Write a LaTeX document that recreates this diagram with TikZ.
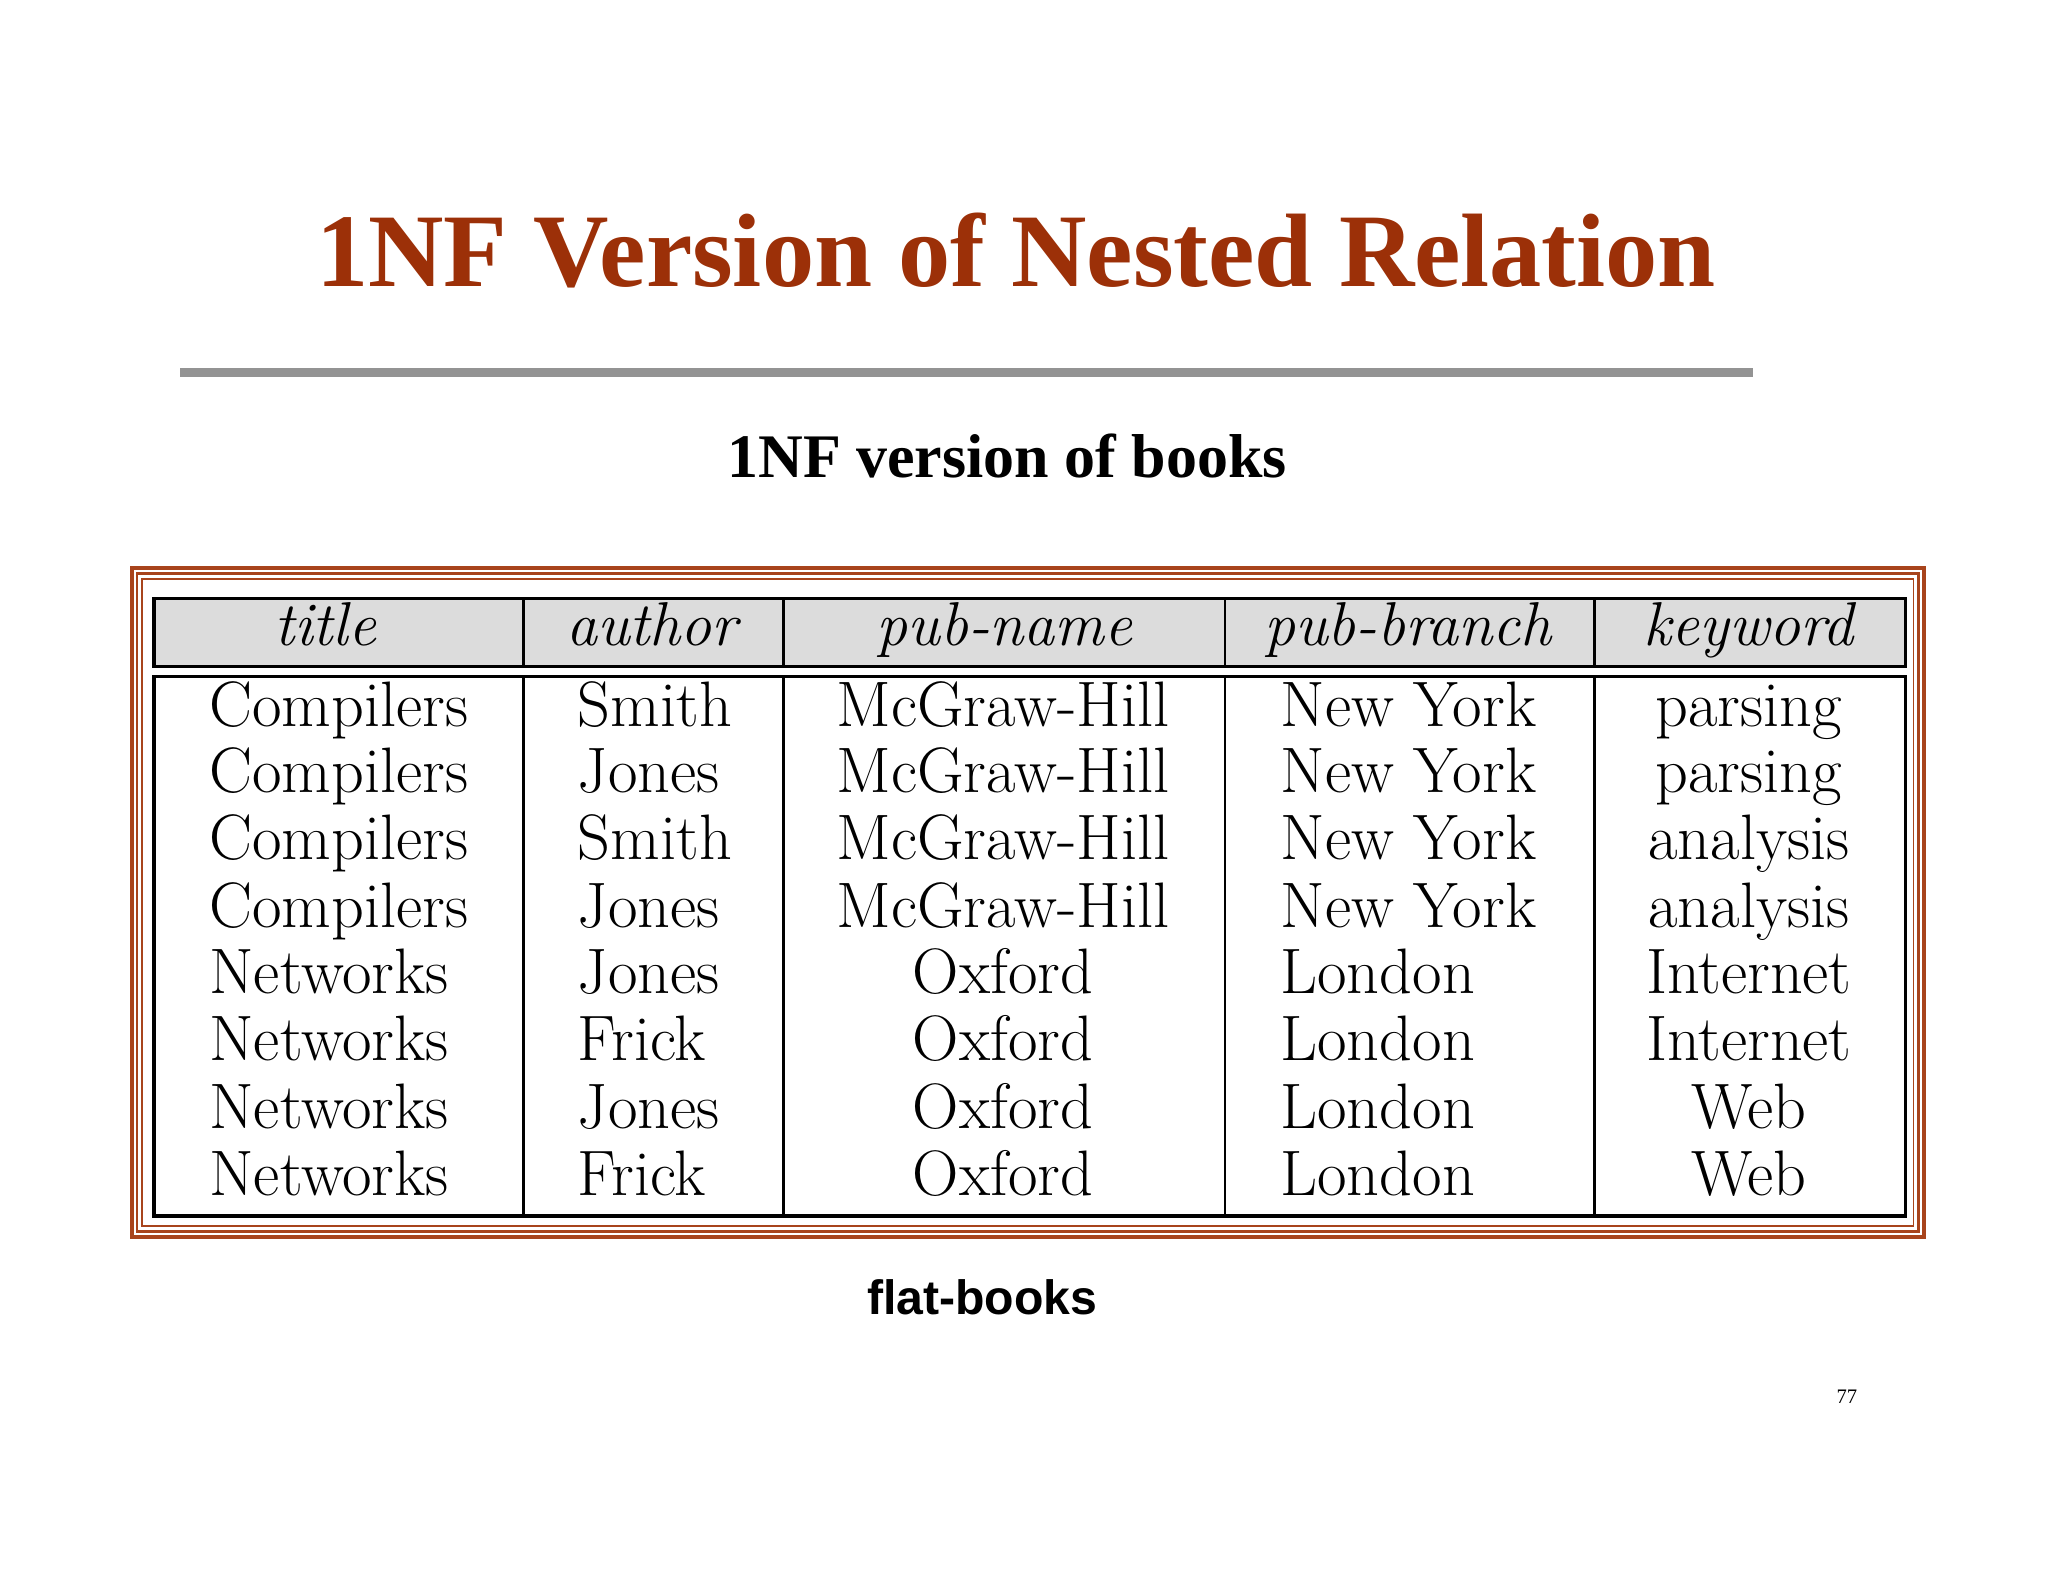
\documentclass[tikz,border=0pt]{standalone}
\usepackage{fontspec}
\setmainfont{Latin Modern Roman}
\newfontfamily\timesf{Liberation Serif}
\newfontfamily\arialf{Liberation Sans}
\definecolor{ttl}{HTML}{9C3008}
\definecolor{frm}{HTML}{A8441C}
\definecolor{hdr}{HTML}{DCDCDC}
\begin{document}
\begin{tikzpicture}[x=0.02cm,y=-0.02cm,
  cell/.style={font=\fontsize{28}{30}\selectfont,inner sep=0pt,anchor=base},
  hcell/.style={font=\fontsize{27}{29}\selectfont\itshape,inner sep=0pt,anchor=base}]
\useasboundingbox (0,0) rectangle (1568,1211);
\node[font=\timesf\bfseries\fontsize{45.5}{50}\selectfont,text=ttl,inner sep=0pt] (title) at (778,192) {1NF Version of Nested Relation};
\draw[line width=0.14cm,color=gray!85] (138,285) -- (1342,285);
\node[font=\timesf\bfseries\fontsize{27}{30}\selectfont,inner sep=0pt] (sub) at (771,349) {1NF version of books};
% frame
\draw[frm,line width=0.06cm] (101,435) rectangle (1473,947);
\draw[frm,line width=0.04cm] (105,439) rectangle (1469,943);
\draw[frm,line width=0.03cm] (109,443) rectangle (1465,939);
% header
\draw[fill=hdr,line width=0.05cm] (118,458) rectangle (1459,510);
\draw[line width=0.05cm] (118,518) rectangle (1459,931);
\foreach \x in {401,600,938,1221}{\draw[line width=0.04cm] (\x,458)--(\x,510); \draw[line width=0.04cm] (\x,518)--(\x,931);}
\node[hcell] (h1) at (249,494) {title};
\node[hcell] (h2) at (499,494) {author};
\node[hcell] (h3) at (769,494) {pub-name};
\node[hcell] (h4) at (1078,494) {pub-branch};
\node[hcell] (h5) at (1339,494) {keyword};
\foreach \y/\a/\b/\c/\d/\e in {
 556/Compilers/Smith/McGraw-Hill/New York/parsing,
 607/Compilers/Jones/McGraw-Hill/New York/parsing,
 658/Compilers/Smith/McGraw-Hill/New York/analysis,
 710/Compilers/Jones/McGraw-Hill/New York/analysis,
 761/Networks/Jones/Oxford/London/Internet,
 812/Networks/Frick/Oxford/London/Internet,
 864/Networks/Jones/Oxford/London/Web,
 915/Networks/Frick/Oxford/London/Web}{
 \node[cell,anchor=base west] at (160,\y) {\a};
 \node[cell,anchor=base west] at (442,\y) {\b};
 \node[cell] at (768,\y) {\c};
 \node[cell,anchor=base west] at (980,\y) {\d};
 \node[cell] at (1339,\y) {\e};
}
\node[font=\arialf\bfseries\fontsize{21}{24}\selectfont,inner sep=0pt] (cap) at (752,993) {flat-books};
\node[font=\timesf\fontsize{9}{10}\selectfont,inner sep=0pt] (pg) at (1414,1069) {77};
\end{tikzpicture}
\end{document}
